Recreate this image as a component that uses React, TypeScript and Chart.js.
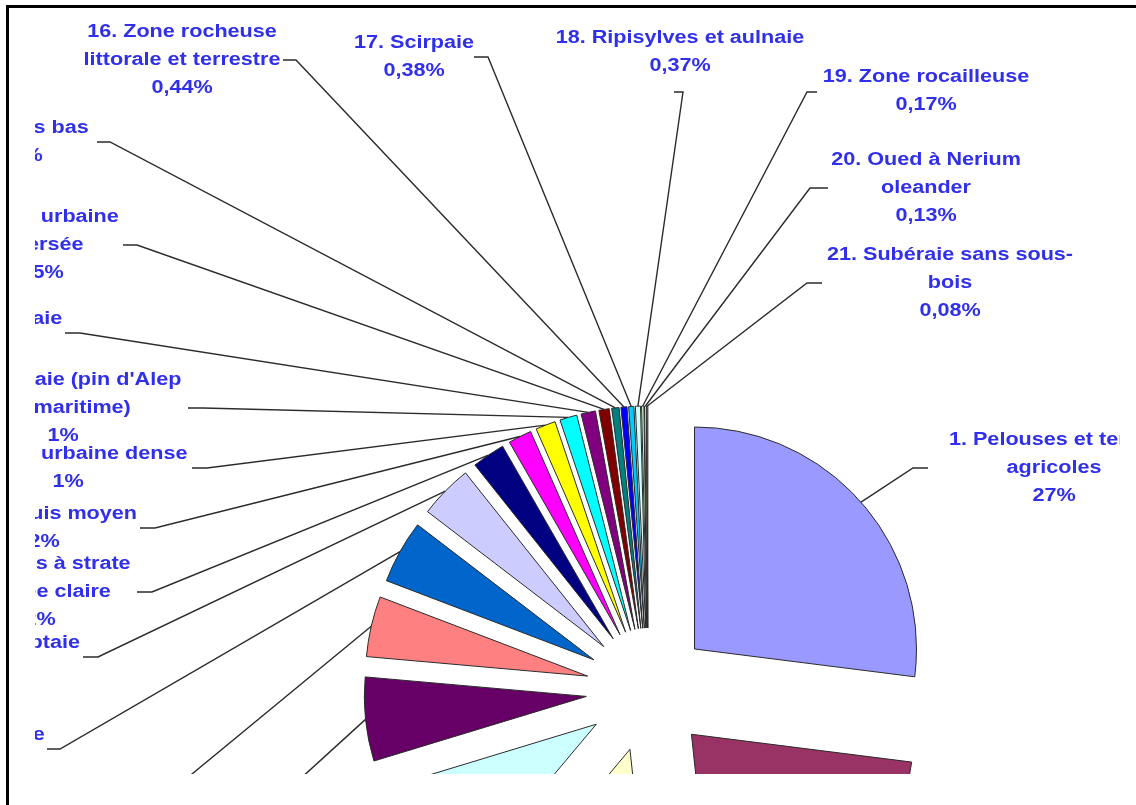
import React, { useEffect, useRef } from 'react';
import { Chart, ArcElement, PieController, registerables } from 'chart.js';

Chart.register(...registerables);

// ---------------- DATA ----------------
const categories: string[][] = [
  ['1. Pelouses et terres', 'agricoles'],
  ['2. Subéraie avec sous-bois'],
  ['3. Matorral dense'],
  ['4. Maquis haut'],
  ['5. Forêt mixte'],
  ['6. Zeenaie'],
  ['7. Oliveraie'],
  ['8. Eucalyptaie'],
  ['9. Maquis à strate', 'arborée claire'],
  ['10. Maquis moyen'],
  ['11. Zone urbaine dense'],
  ["12. Pineraie (pin d'Alep", 'pin maritime)'],
  ['13. Oléastraie'],
  ['14. Zone urbaine', 'dispersée'],
  ['15. Maquis bas'],
  ['16. Zone rocheuse', 'littorale et terrestre'],
  ['17. Scirpaie'],
  ['18. Ripisylves et aulnaie'],
  ['19. Zone rocailleuse'],
  ['20. Oued à Nerium', 'oleander'],
  ['21. Subéraie sans sous-', 'bois'],
];

const values: number[] = [
  27, 21.3, 12.8, 9.2, 6.1, 4.4, 4.6, 3.9, 2.4, 1.7, 1.45,
  1.25, 1.05, 0.75, 0.53, 0.44, 0.38, 0.37, 0.17, 0.13, 0.08,
];

const colors: string[] = [
  '#9999FF', '#993366', '#FFFFCC', '#CCFFFF', '#660066', '#FF8080', '#0066CC',
  '#CCCCFF', '#000080', '#FF00FF', '#FFFF00', '#00FFFF', '#800080', '#800000',
  '#008080', '#0000FF', '#00CCFF', '#CCFFFF', '#CCFFCC', '#FFFF99', '#99CCFF',
];

// ---------------- LAYOUT / STYLE ----------------
const EXPLODE = 62;
const RADIUS = 222;
const LINE_H = 28;
const TEXT_SCALE_X = 1.2;
const TEXT_COLOR = '#2f2fec';
const FONT = 'bold 18px "Liberation Sans", Arial, sans-serif';

// cx: centre of text block, y0: first line middle, ex/ey: leader elbow, hx: end of horizontal tick
const labelLayout = [
  { cx: 1054, y0: 440, ex: 913, ey: 468, hx: 928 },
  { cx: 1000, y0: 870, ex: 880, ey: 884, hx: 895 },
  { cx: 600, y0: 1010, ex: 560, ey: 1000, hx: 575 },
  { cx: 220, y0: 866, ex: 330, ey: 880, hx: 315 },
  { cx: 150, y0: 806, ex: 255, ey: 820, hx: 240 },
  { cx: 30, y0: 816, ex: 124, ey: 830, hx: 110 },
  { cx: -13, y0: 735, ex: 60, ey: 749, hx: 47 },
  { cx: 8, y0: 643, ex: 98, ey: 657, hx: 83 },
  { cx: 40, y0: 564, ex: 152, ey: 592, hx: 137 },
  { cx: 44, y0: 514, ex: 155, ey: 528, hx: 140 },
  { cx: 68, y0: 454, ex: 207, ey: 468, hx: 192 },
  { cx: 63, y0: 380, ex: 203, ey: 408, hx: 188 },
  { cx: -8, y0: 319, ex: 80, ey: 333, hx: 65 },
  { cx: 33, y0: 217, ex: 137, ey: 245, hx: 123 },
  { cx: 12, y0: 128, ex: 110, ey: 142, hx: 97 },
  { cx: 182, y0: 32, ex: 296, ey: 60, hx: 283 },
  { cx: 414, y0: 43, ex: 488, ey: 57, hx: 474 },
  { cx: 680, y0: 38, ex: 683, ey: 92, hx: 674 },
  { cx: 926, y0: 77, ex: 807, ey: 92, hx: 817 },
  { cx: 926, y0: 160, ex: 810, ey: 188, hx: 828 },
  { cx: 950, y0: 255, ex: 807, ey: 283, hx: 822 },
];

function pct(v: number): string {
  if (v >= 1) return Math.round(v) + '%';
  return v.toFixed(2).replace('.', ',') + '%';
}

// Exploded pie slice: each wedge shifted along its mid-angle by EXPLODE px
class ExplodedArc extends ArcElement {
  static id = 'explodedArc';
  draw(ctx: CanvasRenderingContext2D) {
    const a: any = this;
    const { x, y, startAngle, endAngle, outerRadius, options } = a;
    if (!(endAngle > startAngle)) return;
    const mid = (startAngle + endAngle) / 2;
    const cx = x + Math.cos(mid) * EXPLODE;
    const cy = y + Math.sin(mid) * EXPLODE;
    ctx.save();
    ctx.beginPath();
    ctx.moveTo(cx, cy);
    ctx.arc(cx, cy, outerRadius, startAngle, endAngle);
    ctx.closePath();
    ctx.fillStyle = options.backgroundColor;
    ctx.fill();
    ctx.lineWidth = options.borderWidth;
    ctx.strokeStyle = options.borderColor;
    ctx.lineJoin = 'miter';
    ctx.stroke();
    ctx.restore();
  }
}

class ExplodedPieController extends PieController {
  static id = 'explodedPie';
  static defaults = { ...(PieController as any).defaults, dataElementType: 'explodedArc' };
}

Chart.register(ExplodedArc as any, ExplodedPieController as any);

const labelPlugin = {
  id: 'pieLabels',
  afterDraw(chart: any) {
    const ctx: CanvasRenderingContext2D = chart.ctx;
    const meta = chart.getDatasetMeta(0);
    ctx.save();
    meta.data.forEach((arc: any, i: number) => {
      const { x, y, startAngle, endAngle, outerRadius } = arc;
      const mid = (startAngle + endAngle) / 2;
      const r = EXPLODE + outerRadius;
      const px = x + Math.cos(mid) * r;
      const py = y + Math.sin(mid) * r;
      const L = labelLayout[i];
      ctx.beginPath();
      ctx.moveTo(px, py);
      ctx.lineTo(L.ex, L.ey);
      ctx.lineTo(L.hx, L.ey);
      ctx.lineWidth = 1.4;
      ctx.strokeStyle = '#2b2b2b';
      ctx.stroke();

      const lines = [...categories[i], pct(values[i])];
      ctx.fillStyle = TEXT_COLOR;
      ctx.font = FONT;
      ctx.textAlign = 'center';
      ctx.textBaseline = 'middle';
      lines.forEach((t, k) => {
        ctx.save();
        ctx.translate(L.cx, L.y0 + k * LINE_H);
        ctx.scale(TEXT_SCALE_X, 1);
        ctx.fillText(t, 0, 0);
        ctx.restore();
      });
    });
    ctx.restore();
  },
};

export default function App() {
  const ref = useRef<HTMLCanvasElement | null>(null);
  useEffect(() => {
    if (!ref.current) return;
    const chart = new Chart(ref.current, {
      type: 'explodedPie' as any,
      data: {
        labels: categories.map((c) => c.join(' ')),
        datasets: [
          {
            data: values,
            backgroundColor: colors,
            borderColor: '#2a2a2a',
            borderWidth: 1,
          },
        ],
      },
      options: {
        responsive: false,
        animation: false,
        events: [],
        radius: RADIUS,
        rotation: 0,
        layout: { padding: 0 },
        plugins: {
          legend: { display: false },
          tooltip: { enabled: false },
          title: { display: false },
        },
      } as any,
      plugins: [labelPlugin],
    });
    return () => chart.destroy();
  }, []);

  return (
    <div style={{ position: 'fixed', left: 0, top: 0, width: 1136, height: 805, background: '#fff', overflow: 'hidden' }}>
      <div style={{ position: 'absolute', left: 35, top: 9, width: 1085, height: 765, overflow: 'hidden' }}>
        <canvas ref={ref} width={1296} height={1380} style={{ position: 'absolute', left: -35, top: -9 }} />
      </div>
      <div style={{ position: 'absolute', left: 6, top: 5, width: 1130, height: 3, background: '#000' }} />
      <div style={{ position: 'absolute', left: 6, top: 5, width: 3, height: 800, background: '#000' }} />
    </div>
  );
}
